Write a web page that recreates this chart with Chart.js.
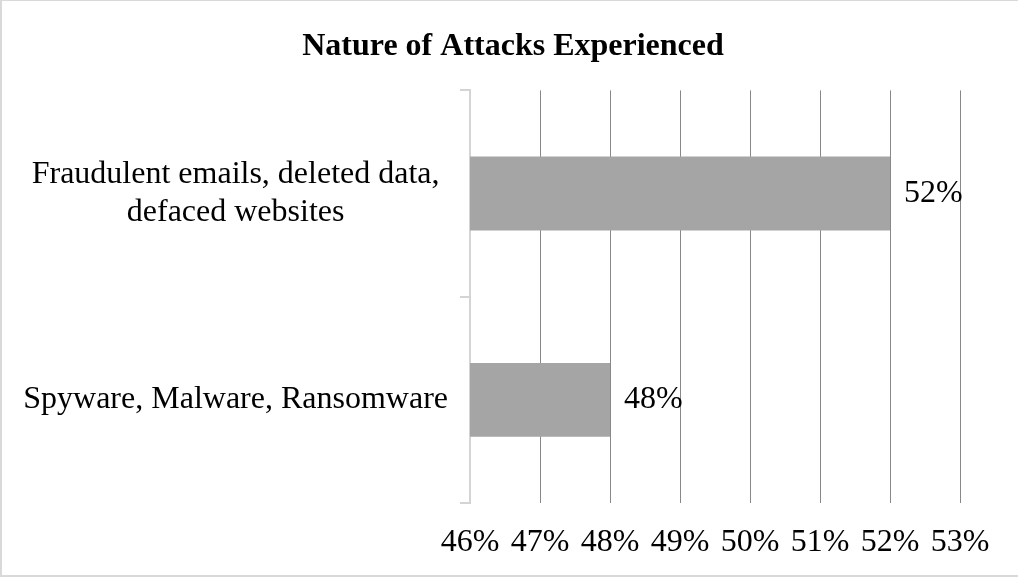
<!DOCTYPE html>
<html>
<head>
<meta charset="utf-8">
<title>Nature of Attacks Experienced</title>
<script src="https://cdn.jsdelivr.net/npm/chart.js@4/dist/chart.umd.min.js"></script>
<style>
  body { margin: 0; background: #fff; }
  canvas { display: block; }
</style>
</head>
<body>
<canvas id="attacksChart" width="1018" height="577"></canvas>
<script>
var categories = [
  ["Fraudulent emails, deleted data,", "defaced websites"],
  "Spyware, Malware, Ransomware"
];
var attackShare = [52, 48];
var axisMin = 46;
var axisMax = 53;

var serif = "'Liberation Serif', 'Times New Roman', serif";

// value labels to the right of each bar
var barLabels = {
  id: 'barLabels',
  afterDatasetsDraw: function(chart) {
    var ctx = chart.ctx;
    var meta = chart.getDatasetMeta(0);
    ctx.save();
    ctx.font = '32px ' + serif;
    ctx.fillStyle = '#000';
    ctx.textAlign = 'left';
    ctx.textBaseline = 'middle';
    meta.data.forEach(function(bar, i) {
      ctx.fillText(attackShare[i] + '%', bar.x + 14, bar.y);
    });
    ctx.restore();
  }
};

// title spans the whole canvas, not just the padded area
var centerTitle = {
  id: 'centerTitle',
  afterLayout: function(chart) {
    if (chart.titleBlock) {
      chart.titleBlock.left = 0;
      chart.titleBlock.right = chart.width + 8;
    }
  }
};

// light grey frame on left, top and bottom
var frame = {
  id: 'frame',
  afterDraw: function(chart) {
    var ctx = chart.ctx;
    ctx.save();
    ctx.fillStyle = '#d9d9d9';
    ctx.fillRect(0, 0, 2, chart.height);
    ctx.fillRect(0, 0, chart.width, 1);
    ctx.fillRect(0, chart.height - 2, chart.width, 2);
    ctx.restore();
  }
};

var ctx = document.getElementById('attacksChart');

var attacksChart = new Chart(ctx, {
  type: 'bar',
  data: {
    labels: categories,
    datasets: [{
      label: 'Nature of Attacks Experienced',
      data: attackShare,
      backgroundColor: '#a5a5a5',
      borderWidth: 0,
      barPercentage: 0.358,
      categoryPercentage: 1
    }]
  },
  options: {
    indexAxis: 'y',
    responsive: false,
    animation: false,
    devicePixelRatio: 1,
    layout: { padding: { top: 0, right: 58, bottom: 0, left: 0 } },
    plugins: {
      legend: { display: false },
      tooltip: { enabled: false },
      title: {
        display: true,
        text: 'Nature of Attacks Experienced',
        color: '#000',
        font: { family: serif, size: 32, weight: 'bold', lineHeight: 1.2 },
        padding: { top: 28, bottom: 24 }
      }
    },
    scales: {
      x: {
        min: axisMin,
        max: axisMax,
        border: { display: false },
        grid: {
          drawTicks: false,
          lineWidth: 1,
          color: function(c) { return c.index === 0 ? 'rgba(0,0,0,0)' : '#888888'; }
        },
        ticks: {
          stepSize: 1,
          padding: 20,
          color: '#000',
          font: { family: serif, size: 32 },
          callback: function(v) { return v + '%'; }
        },
        afterFit: function(scale) { scale.height = 74; }
      },
      y: {
        border: { display: true, color: '#d4d4d4', width: 2 },
        grid: {
          drawOnChartArea: false,
          tickLength: 10,
          lineWidth: 2,
          color: '#d4d4d4'
        },
        ticks: {
          crossAlign: 'center',
          padding: 12,
          color: '#000',
          font: { family: serif, size: 32, lineHeight: 1.2 }
        },
        afterFit: function(scale) { scale.width = 470; }
      }
    }
  },
  plugins: [barLabels, centerTitle, frame]
});
</script>
</body>
</html>
